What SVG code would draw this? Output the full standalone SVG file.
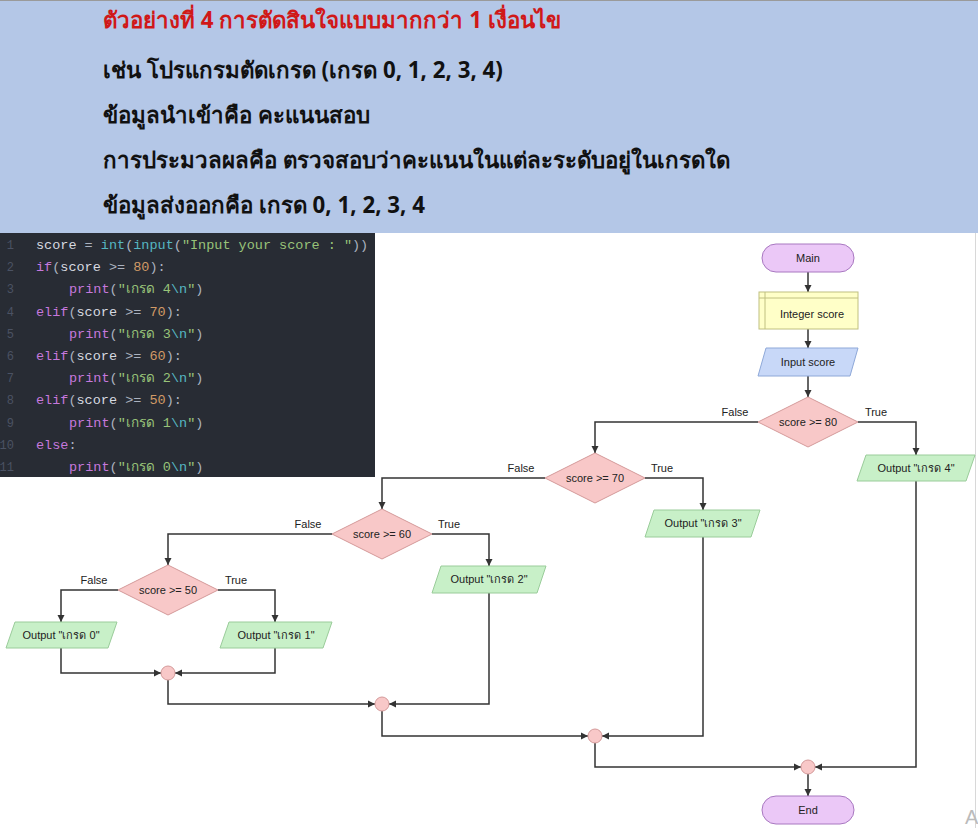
<svg xmlns="http://www.w3.org/2000/svg" width="978" height="828" viewBox="0 0 978 828">
<defs>
<marker id="arr" markerWidth="8" markerHeight="8" refX="7" refY="4" orient="auto" markerUnits="userSpaceOnUse">
<path d="M0,0.5 L7,4 L0,7.5 z" fill="#333"/>
</marker>
<style>
.hd{font-family:"Noto Sans","DejaVu Sans",sans-serif;font-size:22.3px;font-weight:bold;fill:#111}
.code{font-family:"Liberation Mono","DejaVu Sans Mono",monospace;font-size:13.5px;white-space:pre;fill:#d7dae0}
.ln{font-family:"Liberation Mono",monospace;font-size:12px;fill:#4b5263;text-anchor:end}
.kw{fill:#c678dd}.fn{fill:#56b6c2}.st{fill:#98c379}.nm{fill:#d19a66}.op{fill:#abb2bf}.es{fill:#56b6c2}
.t{font-family:"Liberation Sans",Arial,sans-serif;font-size:11px;fill:#222;text-anchor:middle}
.term{fill:#ebc8f7;stroke:#a878c0;stroke-width:1}
.dec{fill:#f8c8c8;stroke:#d49a9a;stroke-width:1}
.out{fill:#c8f0c8;stroke:#9acc9a;stroke-width:1}
.inp{fill:#c8d8f8;stroke:#8ea8d8;stroke-width:1}
.dcl{fill:#ffffc8;stroke:#c0c080;stroke-width:1}
.c{fill:none;stroke:#333;stroke-width:1.5;marker-end:url(#arr)}
</style>
</defs>
<rect x="0" y="0" width="978" height="828" fill="#ffffff"/>
<rect x="0" y="0" width="978" height="233" fill="#b4c7e7"/>
<line x1="0" y1="0.5" x2="978" y2="0.5" stroke="#9a9a9a" stroke-width="1"/>
<line x1="975.5" y1="233" x2="975.5" y2="828" stroke="#d8d8d8" stroke-width="1"/>

<g id="header">
<text class="hd" x="103" y="28" style="fill:#d01818">ตัวอย่างที่ 4 การตัดสินใจแบบมากกว่า 1 เงื่อนไข</text>
<text class="hd" x="103" y="78">เช่น โปรแกรมตัดเกรด (เกรด 0, 1, 2, 3, 4)</text>
<text class="hd" x="103" y="123">ข้อมูลนำเข้าคือ คะแนนสอบ</text>
<text class="hd" x="103" y="168">การประมวลผลคือ ตรวจสอบว่าคะแนนในแต่ละระดับอยู่ในเกรดใด</text>
<text class="hd" x="103" y="213">ข้อมูลส่งออกคือ เกรด 0, 1, 2, 3, 4</text>
</g>

<g id="code">
<rect x="0" y="233" width="375" height="244" fill="#282c34"/>
<text class="ln" x="14" y="249">1</text>
<text class="ln" x="14" y="271">2</text>
<text class="ln" x="14" y="293">3</text>
<text class="ln" x="14" y="316">4</text>
<text class="ln" x="14" y="338">5</text>
<text class="ln" x="14" y="360">6</text>
<text class="ln" x="14" y="382">7</text>
<text class="ln" x="14" y="404">8</text>
<text class="ln" x="14" y="427">9</text>
<text class="ln" x="14" y="449">10</text>
<text class="ln" x="14" y="471">11</text>
<text class="code" x="36" y="249">score <tspan class="op">=</tspan> <tspan class="fn">int</tspan><tspan class="op">(</tspan><tspan class="fn">input</tspan><tspan class="op">(</tspan><tspan class="st">"Input your score : "</tspan><tspan class="op">))</tspan></text>
<text class="code" x="36" y="271"><tspan class="kw">if</tspan><tspan class="op">(</tspan>score <tspan class="op">&gt;=</tspan> <tspan class="nm">80</tspan><tspan class="op">):</tspan></text>
<text class="code" x="69" y="293"><tspan class="kw">print</tspan><tspan class="op">(</tspan><tspan class="st">"เกรด 4</tspan><tspan class="es">\n</tspan><tspan class="st">"</tspan><tspan class="op">)</tspan></text>
<text class="code" x="36" y="316"><tspan class="kw">elif</tspan><tspan class="op">(</tspan>score <tspan class="op">&gt;=</tspan> <tspan class="nm">70</tspan><tspan class="op">):</tspan></text>
<text class="code" x="69" y="338"><tspan class="kw">print</tspan><tspan class="op">(</tspan><tspan class="st">"เกรด 3</tspan><tspan class="es">\n</tspan><tspan class="st">"</tspan><tspan class="op">)</tspan></text>
<text class="code" x="36" y="360"><tspan class="kw">elif</tspan><tspan class="op">(</tspan>score <tspan class="op">&gt;=</tspan> <tspan class="nm">60</tspan><tspan class="op">):</tspan></text>
<text class="code" x="69" y="382"><tspan class="kw">print</tspan><tspan class="op">(</tspan><tspan class="st">"เกรด 2</tspan><tspan class="es">\n</tspan><tspan class="st">"</tspan><tspan class="op">)</tspan></text>
<text class="code" x="36" y="404"><tspan class="kw">elif</tspan><tspan class="op">(</tspan>score <tspan class="op">&gt;=</tspan> <tspan class="nm">50</tspan><tspan class="op">):</tspan></text>
<text class="code" x="69" y="427"><tspan class="kw">print</tspan><tspan class="op">(</tspan><tspan class="st">"เกรด 1</tspan><tspan class="es">\n</tspan><tspan class="st">"</tspan><tspan class="op">)</tspan></text>
<text class="code" x="36" y="449"><tspan class="kw">else</tspan><tspan class="op">:</tspan></text>
<text class="code" x="69" y="471"><tspan class="kw">print</tspan><tspan class="op">(</tspan><tspan class="st">"เกรด 0</tspan><tspan class="es">\n</tspan><tspan class="st">"</tspan><tspan class="op">)</tspan></text>
</g>

<g id="connectors">
<path class="c" d="M808,272 V292"/>
<path class="c" d="M808,329 V348"/>
<path class="c" d="M808,376 V397"/>
<path class="c" d="M758,422 H595 V453"/>
<path class="c" d="M858,422 H916 V455"/>
<path class="c" d="M545,478 H382 V509"/>
<path class="c" d="M645,478 H703 V510"/>
<path class="c" d="M332,534 H168 V565"/>
<path class="c" d="M432,534 H489 V566"/>
<path class="c" d="M118,590 H61 V622"/>
<path class="c" d="M218,590 H275 V622"/>
<path class="c" d="M61,648 V673 H161"/>
<path class="c" d="M275,648 V673 H175"/>
<path class="c" d="M168,680 V704 H375"/>
<path class="c" d="M489,593 V704 H389"/>
<path class="c" d="M382,711 V736 H588"/>
<path class="c" d="M703,537 V736 H602"/>
<path class="c" d="M595,743 V767 H801"/>
<path class="c" d="M916,481 V767 H815"/>
<path class="c" d="M808,774 V796"/>
<text class="t" x="735" y="416">False</text>
<text class="t" x="876" y="416">True</text>
<text class="t" x="521" y="472">False</text>
<text class="t" x="662" y="472">True</text>
<text class="t" x="308" y="528">False</text>
<text class="t" x="449" y="528">True</text>
<text class="t" x="94" y="584">False</text>
<text class="t" x="236" y="584">True</text>
</g>

<g id="main"><rect class="term" x="762" y="244" width="92" height="28" rx="14"/><text class="t" x="808" y="262">Main</text></g>
<g id="declare"><rect class="dcl" x="759" y="292" width="99" height="37"/><line x1="765" y1="292" x2="765" y2="329" stroke="#c0c080"/><line x1="759" y1="298" x2="858" y2="298" stroke="#c0c080"/><text class="t" x="812" y="318">Integer score</text></g>
<g id="input"><polygon class="inp" points="766,348 858,348 850,376 758,376"/><text class="t" x="808" y="366">Input score</text></g>
<g id="d80"><polygon class="dec" points="808,397 858,422 808,447 758,422"/><text class="t" x="808" y="426">score &gt;= 80</text></g>
<g id="o4"><polygon class="out" points="866,455 975,455 966,481 857,481"/><text class="t" x="916" y="472">Output "เกรด 4"</text></g>
<g id="d70"><polygon class="dec" points="595,453 645,478 595,503 545,478"/><text class="t" x="595" y="482">score &gt;= 70</text></g>
<g id="o3"><polygon class="out" points="654,510 760,510 751,537 645,537"/><text class="t" x="703" y="527">Output "เกรด 3"</text></g>
<g id="d60"><polygon class="dec" points="382,509 432,534 382,559 332,534"/><text class="t" x="382" y="538">score &gt;= 60</text></g>
<g id="o2"><polygon class="out" points="441,566 546,566 537,593 432,593"/><text class="t" x="489" y="583">Output "เกรด 2"</text></g>
<g id="d50"><polygon class="dec" points="168,565 218,590 168,615 118,590"/><text class="t" x="168" y="594">score &gt;= 50</text></g>
<g id="o0"><polygon class="out" points="15,622 117,622 108,648 6,648"/><text class="t" x="61" y="639">Output "เกรด 0"</text></g>
<g id="o1"><polygon class="out" points="229,622 332,622 323,648 220,648"/><text class="t" x="276" y="639">Output "เกรด 1"</text></g>
<g id="j1"><circle class="dec" cx="168" cy="673" r="7"/></g>
<g id="j2"><circle class="dec" cx="382" cy="704" r="7"/></g>
<g id="j3"><circle class="dec" cx="595" cy="736" r="7"/></g>
<g id="j4"><circle class="dec" cx="808" cy="767" r="7"/></g>
<g id="end"><rect class="term" x="762" y="796" width="92" height="28" rx="14"/><text class="t" x="808" y="814">End</text></g>
<text x="965" y="824" font-family="Liberation Sans, sans-serif" font-size="20" fill="#bbbbbb">A</text>
</svg>
